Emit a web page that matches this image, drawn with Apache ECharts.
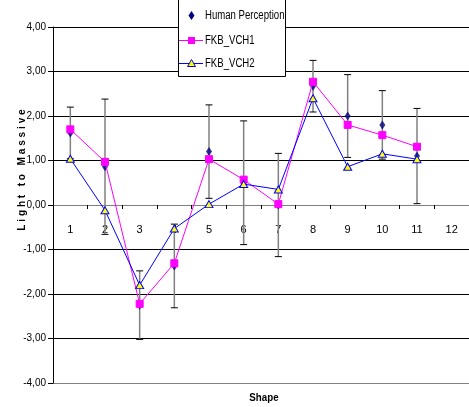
<!DOCTYPE html>
<html>
<head>
<meta charset="utf-8">
<script src="https://cdn.jsdelivr.net/npm/echarts@6/dist/echarts.min.js"></script>
<style>
html,body{margin:0;padding:0;background:#fff;}
#chart{width:469px;height:407px;}
</style>
</head>
<body>
<div id="chart"></div>
<script>
const categories = ['1','2','3','4','5','6','7','8','9','10','11','12'];
const humanPerception = [1.62, 0.86, -2.25, -1.37, 1.20, 0.50, 0.00, 2.67, 2.00, 1.80, 1.10, null];
const humanError = [0.58, 1.52, 0.77, 0.94, 1.05, 1.39, 1.16, 0.58, 0.93, 0.77, 1.07, null];
const fkbVch1 = [1.70, 0.97, -2.22, -1.31, 1.03, 0.57, 0.02, 2.77, 1.80, 1.57, 1.31, null];
const fkbVch2 = [1.04, -0.12, -1.80, -0.53, 0.02, 0.47, 0.35, 2.40, 0.86, 1.15, 1.03, null];
const seriesNames = ['Human Perception', 'FKB_VCH1', 'FKB_VCH2'];

const FONT = "'Liberation Sans Narrow','Arial Narrow','Liberation Sans',Arial,sans-serif";

const errData = [];
humanPerception.forEach((v, i) => {
  if (v !== null && humanError[i] !== null) errData.push([i, v, humanError[i]]);
});

const GRID = {left: 53, top: 27, width: 422, height: 356};

const chart = echarts.init(document.getElementById('chart'), null, {renderer: 'canvas'});

function legendText(txt, y) {
  return {
    type: 'text', x: 205, y: y, scaleX: 0.8, z: 31,
    style: {text: txt, fontFamily: FONT, fontSize: 12, fill: '#000', align: 'left', verticalAlign: 'middle'}
  };
}

const option = {
  animation: false,
  backgroundColor: '#fff',
  textStyle: {fontFamily: FONT},
  grid: GRID,
  xAxis: {
    type: 'category',
    data: categories,
    boundaryGap: true,
    offset: -GRID.height / 2,
    axisLine: {onZero: false, lineStyle: {color: '#808080', width: 1}},
    axisTick: {show: true, length: 4, lineStyle: {color: '#000'}},
    axisLabel: {fontFamily: FONT, fontSize: 11, color: '#000', margin: 19},
    splitLine: {show: false}
  },
  yAxis: {
    type: 'value',
    min: -4, max: 4, interval: 1,
    axisLine: {show: true, lineStyle: {color: '#000', width: 1}},
    axisTick: {show: true, length: 5, lineStyle: {color: '#000'}},
    axisLabel: {fontFamily: FONT, fontSize: 10, color: '#000', margin: 7,
      formatter: v => v.toFixed(2).replace('.', ',')},
    splitLine: {show: true, lineStyle: {color: ['#808080','#000','#000','#000','#000','#000','#000','#000','#000'], width: 1}}
  },
  series: [
    {
      type: 'custom',
      name: 'err',
      data: errData,
      z: 1,
      silent: true,
      renderItem: function (params, api) {
        const x = api.value(0), v = api.value(1), e = api.value(2);
        const top = api.coord([x, v + e]);
        const bot = api.coord([x, v - e]);
        const hw = 3.5;
        return {
          type: 'group',
          children: [
            {type: 'line', shape: {x1: top[0], y1: top[1], x2: bot[0], y2: bot[1]}, style: {stroke: '#808080', lineWidth: 1.5}},
            {type: 'line', shape: {x1: top[0] - hw, y1: top[1], x2: top[0] + hw, y2: top[1]}, style: {stroke: '#000', lineWidth: 1}},
            {type: 'line', shape: {x1: bot[0] - hw, y1: bot[1], x2: bot[0] + hw, y2: bot[1]}, style: {stroke: '#000', lineWidth: 1}}
          ]
        };
      }
    },
    {
      type: 'scatter',
      name: seriesNames[0],
      data: humanPerception,
      symbol: 'diamond',
      symbolSize: [6, 9],
      itemStyle: {color: '#000080'},
      z: 3
    },
    {
      type: 'line',
      name: seriesNames[1],
      data: fkbVch1,
      symbol: 'rect',
      symbolSize: 7,
      showAllSymbol: true,
      lineStyle: {color: '#FF00FF', width: 1},
      itemStyle: {color: '#FF00FF', borderColor: '#FF00FF'},
      z: 4
    },
    {
      type: 'line',
      name: seriesNames[2],
      data: fkbVch2,
      symbol: 'triangle',
      symbolSize: [8, 7],
      showAllSymbol: true,
      lineStyle: {color: '#0000FF', width: 1},
      itemStyle: {color: '#FFFF00', borderColor: '#0000FF', borderWidth: 1},
      z: 5
    }
  ],
  graphic: [
    {
      type: 'text',
      x: 22, y: 170,
      rotation: Math.PI / 2,
      scaleX: 0.88,
      style: {
        text: 'L i g h t   t o   M a s s i v e',
        fontFamily: FONT, fontSize: 11.5, fontWeight: 'bold', fill: '#000',
        align: 'center', verticalAlign: 'middle'
      },
      z: 10
    },
    {
      type: 'text',
      x: 264, y: 398,
      scaleX: 0.85,
      style: {
        text: 'Shape',
        fontFamily: FONT, fontSize: 11.5, fontWeight: 'bold', fill: '#000',
        align: 'center', verticalAlign: 'middle'
      },
      z: 10
    },
    /* legend box */
    {type: 'rect', z: 30, shape: {x: 178.5, y: -1.5, width: 107, height: 78},
      style: {fill: '#fff', stroke: '#000', lineWidth: 1}},
    {type: 'polygon', z: 31, shape: {points: [[191.5, 11], [194.5, 15.5], [191.5, 20], [188.5, 15.5]]},
      style: {fill: '#000080'}},
    legendText(seriesNames[0], 15.5),
    {type: 'line', z: 31, shape: {x1: 179, y1: 40.5, x2: 203, y2: 40.5}, style: {stroke: '#FF00FF', lineWidth: 1}},
    {type: 'rect', z: 32, shape: {x: 188, y: 37, width: 7, height: 7}, style: {fill: '#FF00FF'}},
    legendText(seriesNames[1], 40.5),
    {type: 'line', z: 31, shape: {x1: 179, y1: 63.5, x2: 203, y2: 63.5}, style: {stroke: '#0000FF', lineWidth: 1}},
    {type: 'polygon', z: 32, shape: {points: [[191.5, 59.5], [195.5, 66.5], [187.5, 66.5]]},
      style: {fill: '#FFFF00', stroke: '#0000FF', lineWidth: 1}},
    legendText(seriesNames[2], 63.5)
  ]
};
chart.setOption(option);
</script>
</body>
</html>
